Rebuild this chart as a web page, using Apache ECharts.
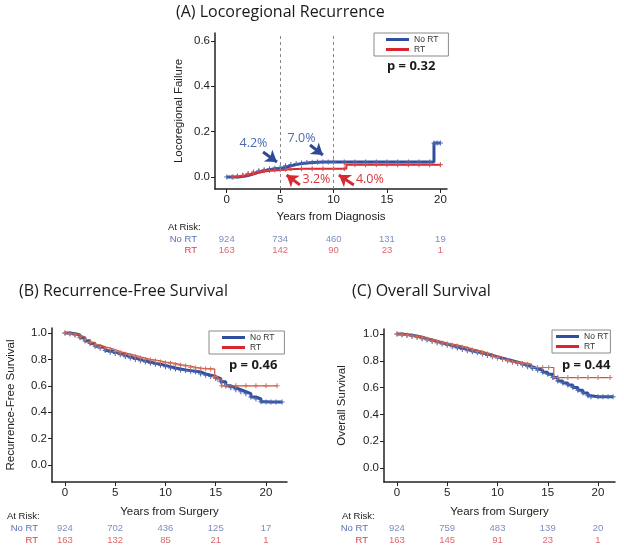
<!DOCTYPE html>
<html><head><meta charset="utf-8">
<script src="https://cdn.jsdelivr.net/npm/echarts@6/dist/echarts.min.js"></script>
<style>html,body{margin:0;padding:0;background:#fff}#c{width:624px;height:553px}</style>
</head><body><div id="c"></div>
<script>
// ---------- data ----------
const groups = ['No RT', 'RT'];
const yearTicks = [0, 5, 10, 15, 20];
const lrTicks = [0, 0.2, 0.4, 0.6];
const survTicks = [0, 0.2, 0.4, 0.6, 0.8, 1.0];

// (A) Locoregional failure (cumulative)
const lrTimeNoRT = [0,0.5,1,1.5,2,2.5,3,3.5,4,4.5,5,5.5,6,6.5,7,7.5,8,8.5,9,9.5,10,11,12,13,14,15,16,17,18,19,19.4,19.7,20];
const lrValNoRT  = [0,0,0.002,0.006,0.014,0.022,0.028,0.032,0.036,0.039,0.042,0.049,0.055,0.059,0.062,0.064,0.065,0.066,0.066,0.066,0.066,0.066,0.066,0.066,0.066,0.066,0.066,0.066,0.066,0.066,0.150,0.150,0.150];
const lrTimeRT = [0.6,1,1.5,2,2.5,3,3.5,4,4.5,5,5.5,6,7,8,9,10,11,11.2,12,13,14,15,16,17,18,19,20];
const lrValRT  = [0,0.004,0.008,0.013,0.019,0.024,0.027,0.029,0.031,0.032,0.034,0.036,0.036,0.036,0.036,0.036,0.036,0.054,0.054,0.054,0.054,0.054,0.054,0.054,0.054,0.054,0.054];
const lrRiskNoRT = [924, 734, 460, 131, 19];
const lrRiskRT   = [163, 142, 90, 23, 1];
const lrNotes = [
  {text:'4.2%', group:'No RT', tx:2.5, ty:0.146, from:[3.4,0.110], to:[4.7,0.066]},
  {text:'7.0%', group:'No RT', tx:7.0, ty:0.172, from:[7.8,0.141], to:[9.0,0.097]},
  {text:'3.2%', group:'RT', tx:8.4, ty:-0.013, from:[6.85,-0.035], to:[5.6,0.009]},
  {text:'4.0%', group:'RT', tx:13.4, ty:-0.013, from:[11.9,-0.035], to:[10.5,0.009]}
];
const lrMarkYears = [5, 10];

// (B) Recurrence-free survival
const rfsTimeNoRT = [0,0.5,1,1.5,2,2.5,3,3.5,4,4.5,5,5.5,6,6.5,7,7.5,8,8.5,9,9.5,10,10.5,11,11.5,12,12.5,13,13.5,14,14.5,15,15.5,16,16.5,17,17.5,18,18.5,19,19.5,20,20.5,21,21.6];
const rfsValNoRT  = [1,0.995,0.985,0.965,0.94,0.92,0.90,0.885,0.868,0.855,0.845,0.835,0.82,0.81,0.80,0.79,0.78,0.77,0.763,0.755,0.745,0.735,0.728,0.72,0.715,0.71,0.705,0.69,0.68,0.67,0.655,0.63,0.60,0.585,0.57,0.555,0.54,0.515,0.50,0.48,0.478,0.478,0.478,0.478];
const rfsTimeRT = [0,0.5,1,1.5,2,2.5,3,3.5,4,4.5,5,5.5,6,6.5,7,7.5,8,8.5,9,9.5,10,10.5,11,11.5,12,12.5,13,13.5,14,14.5,14.9,15.2,15.6,16,17,18,19,20,21.1];
const rfsValRT  = [1,0.995,0.985,0.97,0.95,0.93,0.91,0.895,0.885,0.875,0.86,0.85,0.84,0.83,0.82,0.81,0.80,0.795,0.79,0.78,0.775,0.77,0.76,0.755,0.75,0.74,0.735,0.73,0.73,0.727,0.67,0.65,0.60,0.60,0.60,0.60,0.60,0.60,0.60];
const rfsRiskNoRT = [924, 702, 436, 125, 17];
const rfsRiskRT   = [163, 132, 85, 21, 1];

// (C) Overall survival
const osTimeNoRT = [0,0.5,1,1.5,2,2.5,3,3.5,4,4.5,5,5.5,6,6.5,7,7.5,8,8.5,9,9.5,10,10.5,11,11.5,12,12.5,13,13.5,14,14.5,15,15.5,16,16.5,17,17.5,18,18.5,19,19.3,20,20.5,21,21.5];
const osValNoRT  = [1,0.995,0.99,0.983,0.975,0.965,0.955,0.945,0.935,0.925,0.915,0.905,0.895,0.885,0.875,0.868,0.86,0.85,0.84,0.83,0.82,0.81,0.80,0.79,0.78,0.768,0.755,0.742,0.73,0.715,0.70,0.675,0.65,0.635,0.62,0.60,0.58,0.56,0.54,0.532,0.532,0.532,0.532,0.532];
const osTimeRT = [0,0.5,1,1.5,2,2.5,3,3.5,4,4.5,5,5.5,6,6.5,7,7.5,8,8.5,9,9.5,10,10.5,11,11.5,12,12.5,13,13.4,14,14.5,15.1,15.6,16,17,18,19,20,21.2];
const osValRT  = [1,0.995,0.99,0.985,0.98,0.97,0.96,0.95,0.94,0.932,0.925,0.918,0.91,0.90,0.89,0.88,0.87,0.86,0.85,0.835,0.825,0.81,0.80,0.79,0.785,0.78,0.775,0.75,0.75,0.75,0.75,0.675,0.675,0.675,0.675,0.675,0.675,0.675];
const osRiskNoRT = [924, 759, 483, 139, 20];
const osRiskRT   = [163, 145, 91, 23, 1];

const pValues = ['p = 0.32', 'p = 0.46', 'p = 0.44'];
const panelTitles = ['(A) Locoregional Recurrence', '(B) Recurrence-Free Survival', '(C) Overall Survival'];

// ---------- styling ----------
const BLUE = '#2f4f9e', RED = '#d8262c', RED2 = '#c9553f';
const NUM_BLUE = '#5a72b0', NUM_RED = '#d6424a';
const AX = '#222';
const SANS = 'Liberation Sans, Arial, sans-serif';
const TITLEF = 'Open Sans, sans-serif';
const PLUS = 'path://M4,0H6V4H10V6H6V10H4V6H0V4H4Z';

const pairs = (t, v) => t.map((x, i) => [x, v[i]]);

function xAxisV(grid, min, max, name, gap) {
  return {type:'value', gridIndex:grid, min, max,
    axisLine:{show:true, onZero:false, lineStyle:{color:AX, width:1.5}},
    axisTick:{show:true, length:4, customValues:yearTicks, lineStyle:{color:AX, width:1}},
    axisLabel:{customValues:yearTicks, color:AX, fontSize:11.5, fontFamily:SANS, margin:5},
    splitLine:{show:false},
    name, nameLocation:'middle', nameGap:gap,
    nameTextStyle:{color:AX, fontSize:11.5, fontFamily:SANS}};
}
function yAxisV(grid, min, max, ticks, name, gap) {
  return {type:'value', gridIndex:grid, min, max,
    axisLine:{show:true, onZero:false, lineStyle:{color:AX, width:1.5}},
    axisTick:{show:true, length:4, customValues:ticks, lineStyle:{color:AX, width:1}},
    axisLabel:{customValues:ticks, color:AX, fontSize:11.5, fontFamily:SANS, margin:5, formatter:v => v.toFixed(1)},
    splitLine:{show:false},
    name, nameLocation:'middle', nameGap:gap,
    nameTextStyle:{color:AX, fontSize:11.5, fontFamily:SANS}};
}
function riskX(grid, min, max) {
  return {type:'value', gridIndex:grid, min, max, show:false};
}
function riskY(grid, margin) {
  return {type:'category', gridIndex:grid, data:groups, inverse:true,
    axisLine:{show:false}, axisTick:{show:false}, splitLine:{show:false},
    axisLabel:{margin, interval:0, hideOverlap:false, fontSize:9.5, fontFamily:SANS,
      color:(v) => v === 'No RT' ? NUM_BLUE : NUM_RED}};
}
function curve(name, axis, data, width, color, symColor) {
  return {name, type:'line', step:'end', xAxisIndex:axis, yAxisIndex:axis,
    data, symbol:PLUS, symbolSize:5, showSymbol:true, showAllSymbol:true,
    lineStyle:{color, width}, itemStyle:{color:symColor}, z:name === 'No RT' ? 3 : 4,
    animation:false};
}
function riskSeries(axis, noRt, rt) {
  const d = [];
  yearTicks.forEach((y, i) => {
    d.push({value:[y, 0, noRt[i]], label:{color:NUM_BLUE}});
    d.push({value:[y, 1, rt[i]], label:{color:NUM_RED}});
  });
  return {type:'scatter', xAxisIndex:axis, yAxisIndex:axis, symbolSize:0, data:d, silent:true,
    label:{show:true, position:'inside', fontSize:9.5, fontFamily:SANS,
      formatter:p => String(p.value[2])},
    itemStyle:{color:'#fff'},
    encode:{x:0, y:1}, animation:false};
}

function legendAt(left, top, padding) {
  return {orient:'vertical', left, top, icon:'rect', itemWidth:23, itemHeight:3, itemGap:1,
    padding, borderColor:'#8a8a8a', borderWidth:1, backgroundColor:'#fff',
    textStyle:{fontSize:8.5, fontFamily:SANS, color:'#333', lineHeight:8},
    selectedMode:false,
    data:[{name:'No RT', itemStyle:{color:BLUE}}, {name:'RT', itemStyle:{color:RED}}]};
}
function titleAt(text, left, top, size, weight, family) {
  return {text, left, top, padding:0,
    textStyle:{fontSize:size, fontWeight:weight, fontFamily:family, color:'#1a1a1a'}};
}

const chart = echarts.init(document.getElementById('c'), null, {renderer:'canvas'});

// A series with annotations
const aBlue = curve('No RT', 0, pairs(lrTimeNoRT, lrValNoRT), 3, BLUE, '#4a66b0');
const aRed = curve('RT', 0, pairs(lrTimeRT, lrValRT), 2, RED, '#d9484a');
aBlue.markLine = {silent:true, symbol:'none', label:{show:false},
  lineStyle:{color:'#888', type:[3,3], width:1},
  data: lrMarkYears.map(y => ({xAxis:y}))};
aRed.markLine = {silent:true, symbol:['none','arrow'], symbolSize:11, label:{show:false},
  data: lrNotes.map(n => {
    const c = n.group === 'No RT' ? '#2d4a98' : '#d42a30';
    return [
      {coord:n.from, lineStyle:{color:c, width:3, type:'solid'}, itemStyle:{color:c}},
      {coord:n.to, itemStyle:{color:c}}];
  })};
aRed.markPoint = {silent:true, symbol:'circle', symbolSize:0,
  data: lrNotes.map(n => ({coord:[n.tx, n.ty], value:n.text,
    label:{show:true, position:'inside', formatter:n.text, fontSize:12.5, fontFamily:TITLEF,
      color:n.group === 'No RT' ? '#4d6ab0' : '#d5353b'}}))};

const option = {
  animation:false,
  backgroundColor:'#fff',
  title:[
    titleAt(panelTitles[0], 176, 4, 16, 'normal', TITLEF),
    titleAt(panelTitles[1], 19, 283, 16, 'normal', TITLEF),
    titleAt(panelTitles[2], 352, 283, 16, 'normal', TITLEF),
    titleAt(pValues[0], 387, 60, 13, 'bold', TITLEF),
    titleAt(pValues[1], 229, 359, 13, 'bold', TITLEF),
    titleAt(pValues[2], 562, 359, 13, 'bold', TITLEF),
    titleAt('At Risk:', 168, 222, 9.5, 'normal', SANS),
    titleAt('At Risk:', 7, 511, 9.5, 'normal', SANS),
    titleAt('At Risk:', 342, 511, 9.5, 'normal', SANS)
  ],
  legend:[
    legendAt(374, 33, [2,10,2,12]),
    legendAt(209, 331, [2,10,2,13]),
    legendAt(552, 330, [2,2,2,4])
  ],
  grid:[
    {left:215, top:33, width:232, height:156},
    {left:52, top:328, width:235, height:154},
    {left:384, top:329, width:231, height:153},
    {left:215, top:234, width:232, height:22},
    {left:52, top:522, width:235, height:25},
    {left:384, top:522, width:231, height:25}
  ],
  xAxis:[
    xAxisV(0, -1.1, 20.62, 'Years from Diagnosis', 22),
    xAxisV(1, -1.29, 22.09, 'Years from Surgery', 24),
    xAxisV(2, -1.29, 21.69, 'Years from Surgery', 24),
    riskX(3, -1.1, 20.62),
    riskX(4, -1.29, 22.09),
    riskX(5, -1.29, 21.69)
  ],
  yAxis:[
    yAxisV(0, -0.053, 0.635, lrTicks, 'Locoregional Failure', 30),
    yAxisV(1, -0.129, 1.038, survTicks, 'Recurrence-Free Survival', 35),
    yAxisV(2, -0.104, 1.037, survTicks, 'Overall Survival', 36),
    riskY(3, 18),
    riskY(4, 14),
    riskY(5, 16)
  ],
  series:[
    aBlue, aRed,
    curve('No RT', 1, pairs(rfsTimeNoRT, rfsValNoRT), 3, BLUE, '#4a66b0'),
    curve('RT', 1, pairs(rfsTimeRT, rfsValRT), 1.2, RED2, '#d0705a'),
    curve('No RT', 2, pairs(osTimeNoRT, osValNoRT), 3, BLUE, '#4a66b0'),
    curve('RT', 2, pairs(osTimeRT, osValRT), 1.2, RED2, '#d0705a'),
    riskSeries(3, lrRiskNoRT, lrRiskRT),
    riskSeries(4, rfsRiskNoRT, rfsRiskRT),
    riskSeries(5, osRiskNoRT, osRiskRT)
  ]
};
chart.setOption(option);
</script>
</body></html>
